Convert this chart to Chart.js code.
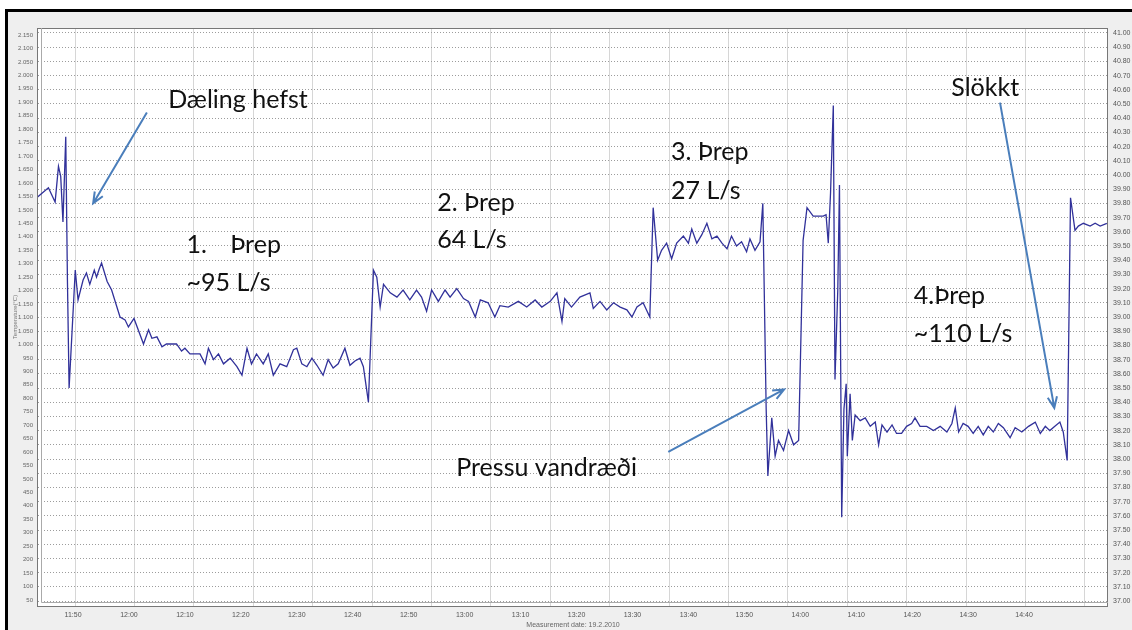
<!DOCTYPE html>
<html>
<head>
<meta charset="utf-8">
<script src="https://cdn.jsdelivr.net/npm/chart.js@4.4.1/dist/chart.umd.min.js"></script>
<style>
  html, body { margin: 0; padding: 0; background: #fff; }
  #wrap { width: 1132px; height: 630px; }
</style>
</head>
<body>
<div id="wrap"><canvas id="chart" width="1132" height="630"></canvas></div>
<script>
// x tick labels (time of day)
const timeTicks = ['11:50', '12:00', '12:10', '12:20', '12:30', '12:40', '12:50', '13:00', '13:10',
  '13:20', '13:30', '13:40', '13:50', '14:00', '14:10', '14:20', '14:30', '14:40'];

// left axis ticks
const leftTicks = [2150, 2100, 2050, 2000, 1950, 1900, 1850, 1800, 1750, 1700, 1650, 1600, 1550, 1500,
  1450, 1400, 1350, 1300, 1250, 1200, 1150, 1100, 1050, 1000, 950, 900, 850, 800, 750, 700, 650, 600,
  550, 500, 450, 400, 350, 300, 250, 200, 150, 100, 50];

// right axis ticks (temperature)
const rightTicks = [41.0, 40.9, 40.8, 40.7, 40.6, 40.5, 40.4, 40.3, 40.2, 40.1, 40.0, 39.9, 39.8, 39.7,
  39.6, 39.5, 39.4, 39.3, 39.2, 39.1, 39.0, 38.9, 38.8, 38.7, 38.6, 38.5, 38.4, 38.3, 38.2, 38.1, 38.0,
  37.9, 37.8, 37.7, 37.6, 37.5, 37.4, 37.3, 37.2, 37.1, 37.0];

// measurement: minutes after midnight
const times = [
  703.5, 705.6, 706.8, 707.4, 707.8, 708.2, 708.7, 709.0, 709.3, 710.4, 710.9, 711.8, 712.4, 713.0,
  713.8, 714.2, 714.7, 715.1, 716.1, 716.9, 718.4, 719.3, 719.9, 720.9, 722.6, 723.5, 724.1, 725.0,
  725.9, 726.7, 728.5, 729.4, 730.0, 730.9, 732.7, 733.6, 734.2, 735.1, 736.0, 736.9, 738.1, 739.3,
  740.2, 741.1, 741.9, 742.8, 744.0, 744.9, 745.8, 747.0, 748.2, 749.4, 750.0, 750.9, 751.8, 752.7,
  753.6, 754.7, 755.6, 756.5, 757.4, 758.6, 759.5, 760.4, 761.3, 761.9, 762.8, 763.7, 764.3, 764.9,
  765.5, 766.7, 767.9, 769.0, 770.2, 771.4, 772.3, 773.2, 774.1, 775.3, 776.5, 777.4, 778.6, 779.8,
  780.7, 781.9, 782.8, 784.2, 785.4, 786.3, 787.8, 789.6, 791.1, 792.6, 793.8, 795.3, 796.5, 797.4,
  797.9, 799.1, 800.6, 802.4, 803.0, 804.2, 805.4, 806.6, 807.8, 809.0, 809.9, 810.8, 811.9, 813.1,
  813.7, 814.5, 815.2, 816.1, 817.0, 817.9, 819.1, 820.0, 820.6, 821.5, 822.4, 823.3, 824.2, 825.1,
  826.0, 826.9, 827.7, 828.6, 829.5, 830.4, 831.0, 831.9, 832.8, 833.3, 833.9, 834.2, 834.9, 835.5,
  836.1, 837.0, 837.9, 838.8, 839.7, 840.5, 841.2, 842.3, 844.1, 844.6, 845.0, 845.4, 845.9, 846.2,
  846.7, 847.0, 847.4, 847.8, 848.2, 848.4, 848.9, 849.3, 849.8, 850.7, 851.6, 852.5, 853.4, 854.0,
  854.6, 855.5, 856.4, 857.2, 858.1, 859.0, 859.9, 860.5, 861.4, 862.6, 863.8, 865.0, 866.2, 867.1,
  867.7, 868.3, 869.1, 870.0, 870.9, 871.8, 872.7, 873.6, 874.5, 875.4, 876.3, 877.5, 878.4, 879.6,
  880.8, 882.0, 882.9, 883.8, 884.6, 885.5, 886.4, 887.0, 887.7, 888.3, 889.1, 889.7, 890.6, 891.8,
  892.7, 893.6, 894.8
];
const temps = [
  39.84, 39.91, 39.81, 40.06, 39.99, 39.67, 40.27, 39.26, 38.50, 39.33, 39.12, 39.26, 39.31, 39.23,
  39.33, 39.28, 39.34, 39.38, 39.25, 39.19, 39.00, 38.98, 38.93, 38.99, 38.81, 38.91, 38.85, 38.86,
  38.79, 38.81, 38.81, 38.76, 38.78, 38.74, 38.74, 38.67, 38.78, 38.70, 38.74, 38.67, 38.71, 38.65,
  38.59, 38.78, 38.67, 38.74, 38.67, 38.74, 38.59, 38.67, 38.65, 38.77, 38.78, 38.67, 38.65, 38.71,
  38.66, 38.59, 38.70, 38.64, 38.67, 38.78, 38.66, 38.69, 38.71, 38.65, 38.40, 39.33, 39.28, 39.07,
  39.23, 39.17, 39.14, 39.19, 39.12, 39.19, 39.14, 39.04, 39.19, 39.11, 39.19, 39.14, 39.20, 39.13,
  39.11, 39.00, 39.12, 39.10, 39.00, 39.08, 39.07, 39.11, 39.07, 39.12, 39.07, 39.11, 39.17, 38.97,
  39.13, 39.07, 39.14, 39.17, 39.06, 39.11, 39.05, 39.10, 39.07, 39.05, 39.00, 39.07, 39.10, 39.00,
  39.77, 39.40, 39.47, 39.52, 39.41, 39.52, 39.57, 39.52, 39.62, 39.52, 39.58, 39.66, 39.55, 39.57,
  39.52, 39.48, 39.57, 39.50, 39.53, 39.46, 39.55, 39.47, 39.53, 39.80, 38.35, 37.88, 38.29, 38.02,
  38.13, 38.06, 38.20, 38.10, 38.13, 39.54, 39.77, 39.71, 39.71, 39.72, 39.52, 39.87, 40.49, 38.56,
  39.19, 39.93, 37.59, 38.35, 38.53, 38.02, 38.46, 38.13, 38.31, 38.27, 38.29, 38.23, 38.26, 38.10,
  38.24, 38.19, 38.24, 38.18, 38.18, 38.23, 38.25, 38.29, 38.23, 38.23, 38.20, 38.23, 38.19, 38.25,
  38.36, 38.19, 38.25, 38.23, 38.18, 38.23, 38.17, 38.23, 38.19, 38.25, 38.22, 38.15, 38.22, 38.19,
  38.23, 38.26, 38.18, 38.23, 38.20, 38.23, 38.26, 38.19, 37.99, 39.84, 39.61, 39.64, 39.66, 39.64,
  39.66, 39.64, 39.66
];

// hand written notes on the chart (time, temperature)
const notes = [
  { text: 'Dæling hefst', t: 727.0, v: 40.53 },
  { text: '1.', t: 730.3, v: 39.51 },
  { text: 'Þrep', t: 738.1, v: 39.51 },
  { text: '~95 L/s', t: 730.3, v: 39.24 },
  { text: '2. Þrep', t: 775.1, v: 39.80 },
  { text: '64 L/s', t: 775.1, v: 39.54 },
  { text: '3. Þrep', t: 816.9, v: 40.16 },
  { text: '27 L/s', t: 816.9, v: 39.89 },
  { text: '4.Þrep', t: 860.3, v: 39.15 },
  { text: '~110 L/s', t: 860.3, v: 38.88 },
  { text: 'Slökkt', t: 867.0, v: 40.61 },
  { text: 'Pressu vandræði', t: 778.5, v: 37.94 }
];
const arrows = [
  { from: [723.2, 40.44], to: [713.6, 39.80] },
  { from: [875.7, 40.51], to: [885.4, 38.36] },
  { from: [816.4, 38.05], to: [837.1, 38.49] }
];

function toMinutes(s) {
  const [h, m] = s.split(':').map(Number);
  return h * 60 + m;
}
function fmtTime(v) {
  const h = Math.floor(v / 60);
  const m = Math.round(v % 60);
  return `${h}:${m.toString().padStart(2, '0')}`;
}
function fmtLeft(v) {
  if (v >= 1000) return `${Math.floor(v / 1000)}.${(v % 1000).toString().padStart(3, '0')}`;
  return `${v}`;
}

const tickFont = { family: 'Liberation Sans', size: 7 };

const paper = {
  id: 'paper',
  beforeDraw(chart) {
    const { ctx, chartArea: a, width, height } = chart;
    ctx.save();
    ctx.fillStyle = '#ffffff';
    ctx.fillRect(0, 0, width, height);
    ctx.fillStyle = '#efefef';
    ctx.fillRect(7, 10, width - 7, height - 10);
    ctx.fillStyle = '#ffffff';
    ctx.fillRect(a.left, a.top, a.right - a.left, a.bottom - a.top);
    ctx.fillStyle = '#000';
    ctx.fillRect(5, 9, width - 5, 3);
    ctx.fillRect(5, 9, 3, height - 9);
    ctx.restore();
  },
  beforeDatasetsDraw(chart) {
    const { ctx, chartArea: a } = chart;
    ctx.save();
    ctx.strokeStyle = '#777';
    ctx.lineWidth = 1;
    ctx.strokeRect(a.left - 0.5, a.top + 0.5, a.right - a.left, a.bottom - a.top);
    ctx.strokeStyle = '#aaa';
    ctx.beginPath();
    ctx.moveTo(a.left + 3.5, a.top);
    ctx.lineTo(a.left + 3.5, a.bottom - 3.5);
    ctx.lineTo(a.right, a.bottom - 3.5);
    ctx.stroke();
    ctx.restore();
  },
  afterDatasetsDraw(chart) {
    const { ctx } = chart;
    const xs = chart.scales.x, ys = chart.scales.yR;
    ctx.save();
    ctx.fillStyle = '#111';
    ctx.font = '25px Lato';
    ctx.textBaseline = 'middle';
    notes.forEach(n => {
      ctx.fillText(n.text, xs.getPixelForValue(n.t), ys.getPixelForValue(n.v));
    });
    ctx.strokeStyle = '#4a7ebb';
    ctx.lineWidth = 2;
    arrows.forEach(ar => {
      const x1 = xs.getPixelForValue(ar.from[0]), y1 = ys.getPixelForValue(ar.from[1]);
      const x2 = xs.getPixelForValue(ar.to[0]), y2 = ys.getPixelForValue(ar.to[1]);
      const ang = Math.atan2(y2 - y1, x2 - x1);
      ctx.beginPath();
      ctx.moveTo(x1, y1);
      ctx.lineTo(x2, y2);
      ctx.moveTo(x2 - 12 * Math.cos(ang - 0.4), y2 - 12 * Math.sin(ang - 0.4));
      ctx.lineTo(x2, y2);
      ctx.lineTo(x2 - 12 * Math.cos(ang + 0.4), y2 - 12 * Math.sin(ang + 0.4));
      ctx.stroke();
    });
    ctx.restore();
  }
};

new Chart(document.getElementById('chart'), {
  type: 'line',
  data: {
    datasets: [{
      data: times.map((t, i) => ({ x: t, y: temps[i] })),
      xAxisID: 'x',
      yAxisID: 'yR',
      borderColor: '#31319a',
      borderWidth: 1.3,
      pointRadius: 0,
      tension: 0
    }]
  },
  options: {
    responsive: false,
    animation: false,
    layout: { padding: { top: 28, left: 0, right: 0, bottom: 0 } },
    plugins: { legend: { display: false }, tooltip: { enabled: false } },
    scales: {
      x: {
        type: 'linear',
        position: 'bottom',
        min: 703.74,
        max: 895.0,
        afterBuildTicks: s => { s.ticks = timeTicks.map(l => ({ value: toMinutes(l) })); },
        afterFit: s => { s.height = 24; },
        grid: { display: false, drawTicks: false },
        border: { display: false },
        ticks: { autoSkip: false, maxRotation: 0, padding: 5, color: '#555', font: tickFont, callback: v => fmtTime(v) },
        title: { display: true, text: 'Measurement date: 19.2.2010', color: '#666', font: { family: 'Liberation Sans', size: 7 }, padding: { top: 0, bottom: 1 } }
      },
      xg: {
        type: 'linear',
        position: 'bottom',
        min: -0.623,
        max: 17.39,
        afterBuildTicks: s => { s.ticks = timeTicks.map((l, i) => ({ value: i })); },
        afterFit: s => { s.height = 0; },
        grid: { color: '#d6d6d6', lineWidth: 1, drawTicks: false },
        border: { display: false },
        ticks: { display: false }
      },
      yL: {
        position: 'left',
        min: 27.7,
        max: 2176,
        afterBuildTicks: s => { s.ticks = leftTicks.map(v => ({ value: v })); },
        afterFit: s => { s.width = 38; },
        grid: { display: false, drawTicks: false },
        border: { display: false },
        ticks: { autoSkip: false, padding: 5, color: '#666', font: { family: 'Liberation Sans', size: 6 }, callback: v => fmtLeft(v) },
        title: { display: true, text: 'Temperature(°C)', color: '#777', font: { family: 'Liberation Sans', size: 6 }, padding: { top: 12, bottom: 0 } }
      },
      yR: {
        position: 'right',
        min: 36.9648,
        max: 41.0352,
        afterBuildTicks: s => { s.ticks = rightTicks.map(v => ({ value: v })); },
        afterFit: s => { s.width = 24; },
        grid: { color: '#9c9c9c', borderDash: [1, 2], drawTicks: false },
        border: { display: false, dash: [1, 2] },
        ticks: { autoSkip: false, padding: 5, color: '#555', font: tickFont, callback: v => v.toFixed(2) }
      }
    }
  },
  plugins: [paper]
});
</script>
</body>
</html>
